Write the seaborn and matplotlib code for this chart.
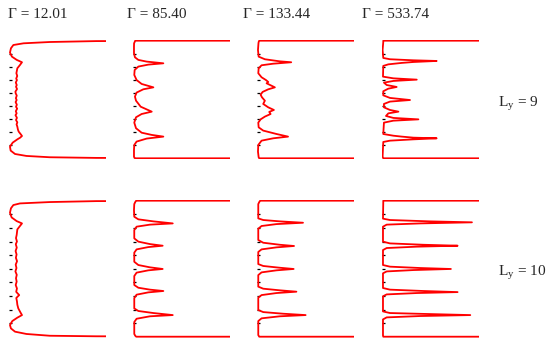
import numpy as np
import pandas as pd
import matplotlib
matplotlib.use("Agg")
import matplotlib.pyplot as plt
import seaborn as sns

# coupling values (columns) and channel widths (rows)
gammas = ["12.01", "85.40", "133.44", "533.74"]
ly_values = [9, 10]

# density profiles: position across channel (z) vs density (d)
# Ly = 9
z_r1c1 = [9.0, 8.97, 8.90, 8.80, 8.67, 8.42, 8.09, 7.78, 7.53, 7.35, 7.14, 6.89, 6.51, 6.30, 6.10, 5.99, 5.80,
          5.60, 5.48, 5.30, 5.10, 4.97, 4.80, 4.60, 4.46, 4.30, 4.10, 3.95, 3.80, 3.60, 3.44, 3.30, 3.10, 2.93,
          2.75, 2.60, 2.42, 2.20, 2.04, 1.85, 1.71, 1.58, 1.45, 1.20, 0.89, 0.59, 0.33, 0.18, 0.08, 0.03, 0.0]
d_r1c1 = [3.0, 0.9, 0.42, 0.15, 0.045, 0.02, 0.01, 0.03, 0.08, 0.134, 0.113, 0.086, 0.076, 0.085, 0.074, 0.082,
          0.070, 0.080, 0.072, 0.083, 0.066, 0.069, 0.080, 0.071, 0.079, 0.068, 0.081, 0.072, 0.084, 0.070, 0.079,
          0.067, 0.082, 0.072, 0.086, 0.078, 0.086, 0.092, 0.10, 0.12, 0.134, 0.115, 0.086, 0.038, 0.01, 0.017,
          0.062, 0.18, 0.42, 0.9, 3.0]

z_r1c2 = [9.0, 9.0, 8.90, 8.80, 8.55, 8.04, 7.73, 7.53, 7.40, 7.27, 7.17, 7.02, 6.76, 6.38, 5.99, 5.69, 5.43,
          5.28, 5.03, 4.72, 4.41, 3.95, 3.57, 3.39, 3.14, 2.73, 2.30, 1.96, 1.79, 1.66, 1.51, 1.28, 1.02, 0.64,
          0.13, 0.03, 0.0, 0.0]
d_r1c2 = [3.0, 0.02, 0.014, 0.008, 0.007, 0.007, 0.017, 0.052, 0.138, 0.31, 0.155, 0.052, 0.014, 0.01, 0.034,
          0.086, 0.207, 0.103, 0.034, 0.017, 0.028, 0.076, 0.19, 0.086, 0.028, 0.01, 0.028, 0.086, 0.19, 0.31,
          0.138, 0.034, 0.01, 0.007, 0.007, 0.012, 0.02, 3.0]

z_r1c3 = [9.0, 9.0, 8.90, 8.80, 8.29, 7.78, 7.58, 7.42, 7.35, 7.24, 7.12, 6.89, 6.51, 6.20, 5.99, 5.84, 5.74,
          5.59, 5.43, 5.28, 5.08, 4.87, 4.67, 4.41, 4.16, 3.90, 3.70, 3.55, 3.39, 3.19, 2.98, 2.73, 2.37, 2.12,
          1.86, 1.66, 1.53, 1.35, 1.02, 0.51, 0.08, 0.0, 0.0]
d_r1c3 = [3.0, 0.02, 0.014, 0.012, 0.007, 0.014, 0.078, 0.232, 0.35, 0.164, 0.044, 0.014, 0.01, 0.044, 0.089,
          0.113, 0.096, 0.137, 0.181, 0.113, 0.055, 0.034, 0.048, 0.078, 0.061, 0.113, 0.171, 0.123, 0.137,
          0.078, 0.034, 0.01, 0.014, 0.061, 0.198, 0.317, 0.164, 0.044, 0.01, 0.007, 0.014, 0.02, 3.0]

z_r1c4 = [9.0, 9.0, 8.90, 8.29, 7.68, 7.58, 7.50, 7.45, 7.37, 7.30, 7.19, 7.07, 6.25, 6.12, 6.02, 5.92, 5.79,
          5.61, 5.46, 5.33, 5.13, 4.82, 4.62, 4.46, 4.34, 4.16, 3.90, 3.70, 3.57, 3.44, 3.24, 3.09, 2.98, 2.88,
          2.73, 1.86, 1.73, 1.66, 1.58, 1.53, 1.45, 1.35, 1.25, 0.13, 0.0, 0.0]
d_r1c4 = [3.0, 0.01, 0.01, 0.003, 0.01, 0.079, 0.32, 0.56, 0.32, 0.2, 0.062, 0.01, 0.007, 0.114, 0.355, 0.114,
          0.017, 0.045, 0.148, 0.062, 0.01, 0.01, 0.079, 0.286, 0.079, 0.017, 0.017, 0.079, 0.166, 0.062, 0.038,
          0.114, 0.372, 0.114, 0.017, 0.01, 0.114, 0.2, 0.32, 0.56, 0.32, 0.079, 0.01, 0.003, 0.01, 3.0]

# Ly = 10
z_r2c1 = [10.0, 9.97, 9.90, 9.80, 9.68, 9.44, 9.12, 8.77, 8.50, 8.33, 8.14, 7.89, 7.48, 7.25, 7.00, 6.80, 6.55,
          6.30, 6.05, 5.80, 5.55, 5.30, 5.05, 4.80, 4.55, 4.30, 4.05, 3.80, 3.55, 3.30, 3.06, 2.85, 2.60, 2.35,
          2.08, 1.76, 1.59, 1.40, 1.15, 0.86, 0.61, 0.37, 0.20, 0.07, 0.03, 0.0]
d_r2c1 = [3.0, 0.9, 0.42, 0.113, 0.045, 0.02, 0.01, 0.027, 0.079, 0.134, 0.113, 0.086, 0.079, 0.072, 0.082,
          0.070, 0.080, 0.068, 0.078, 0.071, 0.083, 0.069, 0.077, 0.066, 0.080, 0.072, 0.079, 0.069, 0.082,
          0.074, 0.105, 0.075, 0.082, 0.086, 0.096, 0.12, 0.134, 0.086, 0.034, 0.01, 0.02, 0.062, 0.18, 0.42,
          0.9, 3.0]

z_r2c2 = [10.0, 10.0, 9.90, 9.75, 9.31, 8.82, 8.63, 8.48, 8.33, 8.24, 8.09, 7.84, 7.23, 6.99, 6.81, 6.69, 6.59,
          6.42, 6.18, 5.51, 5.27, 5.10, 4.98, 4.88, 4.71, 4.46, 3.80, 3.60, 3.46, 3.36, 3.26, 3.09, 2.84, 2.08,
          1.89, 1.74, 1.59, 1.50, 1.32, 1.08, 0.20, 0.07, 0.0, 0.0]
d_r2c2 = [3.0, 0.03, 0.02, 0.01, 0.007, 0.01, 0.052, 0.207, 0.407, 0.172, 0.034, 0.01, 0.01, 0.052, 0.172, 0.303,
          0.155, 0.034, 0.01, 0.01, 0.052, 0.172, 0.303, 0.155, 0.034, 0.01, 0.01, 0.052, 0.172, 0.31, 0.155,
          0.034, 0.01, 0.01, 0.052, 0.207, 0.407, 0.172, 0.034, 0.01, 0.01, 0.02, 0.03, 3.0]

z_r2c3 = [10.0, 10.0, 9.90, 9.75, 8.70, 8.58, 8.48, 8.38, 8.28, 8.14, 7.94, 7.11, 6.91, 6.76, 6.67, 6.57, 6.42,
          6.23, 5.34, 5.20, 5.07, 4.98, 4.88, 4.73, 4.53, 3.68, 3.53, 3.41, 3.31, 3.21, 3.06, 2.87, 1.96, 1.81,
          1.69, 1.59, 1.50, 1.35, 1.15, 0.12, 0.0, 0.0]
d_r2c3 = [3.0, 0.03, 0.02, 0.01, 0.01, 0.061, 0.232, 0.471, 0.198, 0.044, 0.01, 0.01, 0.061, 0.232, 0.379, 0.198,
          0.044, 0.01, 0.01, 0.061, 0.232, 0.375, 0.198, 0.044, 0.01, 0.01, 0.061, 0.232, 0.403, 0.198, 0.044,
          0.01, 0.01, 0.061, 0.266, 0.498, 0.232, 0.044, 0.01, 0.01, 0.02, 3.0]

z_r2c4 = [10.0, 10.0, 9.90, 8.68, 8.58, 8.48, 8.41, 8.33, 8.24, 8.09, 6.99, 6.86, 6.76, 6.69, 6.62, 6.52, 6.37,
          5.27, 5.15, 5.05, 4.98, 4.90, 4.80, 4.66, 3.58, 3.46, 3.36, 3.28, 3.21, 3.11, 2.97, 1.86, 1.74, 1.67,
          1.59, 1.52, 1.42, 1.27, 0.10, 0.0, 0.0]
d_r2c4 = [3.0, 0.01, 0.01, 0.007, 0.079, 0.49, 0.924, 0.39, 0.045, 0.007, 0.007, 0.079, 0.424, 0.776, 0.355,
          0.045, 0.007, 0.007, 0.079, 0.39, 0.707, 0.32, 0.045, 0.007, 0.007, 0.079, 0.424, 0.776, 0.355, 0.045,
          0.007, 0.007, 0.079, 0.459, 0.907, 0.39, 0.045, 0.007, 0.007, 0.01, 3.0]

profiles = [[(z_r1c1, d_r1c1), (z_r1c2, d_r1c2), (z_r1c3, d_r1c3), (z_r1c4, d_r1c4)],
            [(z_r2c1, d_r2c1), (z_r2c2, d_r2c2), (z_r2c3, d_r2c3), (z_r2c4, d_r2c4)]]

sns.set_style("white")
plt.rcParams["font.family"] = ["Liberation Serif", "DejaVu Serif"]
plt.rcParams["mathtext.fontset"] = "custom"
plt.rcParams["mathtext.rm"] = "Liberation Serif"

W, H = 552, 345
fig = plt.figure(figsize=(W / 100, H / 100), dpi=100)

# panel placement in pixels
col_left = [9, 133.3, 257.3, 382.3]
col_width = 97
row_box = [(40.7, 158.3), (200.7, 336.7)]
pad = 1.0

for r, ly in enumerate(ly_values):
    top, bottom = row_box[r]
    per_px = ly / (bottom - top)
    for c in range(4):
        ax = fig.add_axes([col_left[c] / W, (H - bottom - pad) / H,
                           col_width / W, (bottom - top + 2 * pad) / H])
        z, d = profiles[r][c]
        df = pd.DataFrame({"pos": z, "dens": d})
        sns.lineplot(data=df, x="dens", y="pos", sort=False, estimator=None,
                     color="red", lw=1.3, ax=ax)
        ax.set_xlim(0, 1)
        ax.set_ylim(-pad * per_px, ly + pad * per_px)
        ax.set_yticks(range(1, ly))
        ax.set_yticklabels([])
        ax.set_xticks([])
        ax.set_xlabel("")
        ax.set_ylabel("")
        ax.tick_params(axis="y", direction="in", length=2.5, width=0.9,
                       color="black", left=True)
        sns.despine(ax=ax, left=True, bottom=True)

# column titles
title_x = [8, 127, 243, 362]
for g, tx in zip(gammas, title_x):
    fig.text(tx / W, 1 - 14 / H, "Γ = " + g, ha="left", va="center", fontsize=11)

# row labels
fig.text(498 / W, 1 - 106.5 / H, r"L$_{\rm y}$ = 9", ha="left", va="baseline", fontsize=11)
fig.text(498 / W, 1 - 275 / H, r"L$_{\rm y}$ = 10", ha="left", va="baseline", fontsize=11)

fig.savefig("out.png", dpi=100)
